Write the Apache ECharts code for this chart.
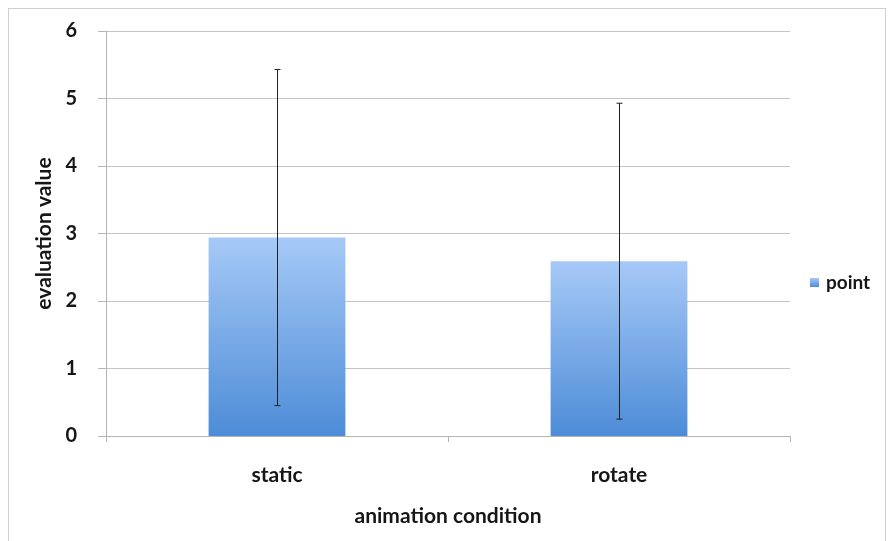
<!DOCTYPE html>
<html>
<head>
<meta charset="utf-8">
<script src="https://cdn.jsdelivr.net/npm/echarts@6/dist/echarts.min.js"></script>
<style>
  html, body { margin: 0; padding: 0; background: #fff; }
  #frame { position: absolute; left: 8px; top: 8px; width: 878px; height: 540px; border: 1px solid #d0d0d0; border-bottom: none; box-sizing: border-box; }
  #chart { width: 890px; height: 541px; position: absolute; left: 0; top: 0; }
</style>
</head>
<body>
<div id="frame"></div>
<div id="chart"></div>
<script>
// Mean evaluation per animation condition, with standard deviation
const categories = ['static', 'rotate'];
const pointMeans = [2.94, 2.59];
const pointSD = [2.49, 2.34];
const yTicks = [0, 1, 2, 3, 4, 5, 6];

const FONT = 'Lato, "Open Sans", sans-serif';
const TEXT = '#161616';
const chart = echarts.init(document.getElementById('chart'), null, { renderer: 'canvas' });

const errData = categories.map((c, i) => [i, pointMeans[i] - pointSD[i], pointMeans[i] + pointSD[i]]);

chart.setOption({
  animation: false,
  backgroundColor: 'transparent',
  grid: { left: 106, right: 100, top: 31, bottom: 105 },
  legend: {
    data: [{ name: 'point', icon: 'rect' }],
    left: 805, top: 268,
    itemWidth: 9, itemHeight: 9, itemGap: 6,
    textStyle: { fontFamily: FONT, fontWeight: 'bold', fontSize: 19, color: TEXT, padding: [0, 0, 0, 2] }
  },
  xAxis: {
    type: 'category',
    data: categories,
    name: 'animation condition',
    nameLocation: 'middle',
    nameGap: 70,
    nameTextStyle: { fontFamily: FONT, fontWeight: 'bold', fontSize: 21, color: TEXT },
    axisLine: { lineStyle: { color: '#b5b5b5', width: 1 } },
    axisTick: { show: true, alignWithLabel: false, length: 6, lineStyle: { color: '#b5b5b5' } },
    axisLabel: { margin: 29, fontFamily: FONT, fontWeight: 'bold', fontSize: 21, color: TEXT }
  },
  yAxis: {
    type: 'value',
    min: yTicks[0], max: yTicks[yTicks.length - 1], interval: 1,
    name: 'evaluation value',
    nameLocation: 'middle',
    nameGap: 50,
    nameTextStyle: { fontFamily: FONT, fontWeight: 'bold', fontSize: 21, color: TEXT },
    axisLine: { show: true, lineStyle: { color: '#b5b5b5', width: 1 } },
    axisTick: { show: true, length: 8, lineStyle: { color: '#b5b5b5' } },
    axisLabel: { margin: 29, fontFamily: FONT, fontWeight: 'bold', fontSize: 20, color: TEXT },
    splitLine: { show: true, lineStyle: { color: '#c4c4c4', width: 1 } }
  },
  series: [
    {
      name: 'point',
      type: 'bar',
      barWidth: '40%',
      data: pointMeans,
      itemStyle: {
        color: new echarts.graphic.LinearGradient(0, 0, 0, 1, [
          { offset: 0, color: '#a6c9f7' },
          { offset: 1, color: '#4d8cd7' }
        ])
      }
    },
    {
      name: 'sd',
      type: 'custom',
      data: errData,
      z: 10,
      renderItem: function (params, api) {
        const x = api.value(0);
        const lo = api.coord([x, api.value(1)]);
        const hi = api.coord([x, api.value(2)]);
        const cx = Math.round(lo[0]) + 0.5;
        const cap = 3;
        const style = { stroke: '#222', lineWidth: 1 };
        return {
          type: 'group',
          children: [
            { type: 'line', shape: { x1: cx, y1: hi[1], x2: cx, y2: lo[1] }, style: style },
            { type: 'line', shape: { x1: cx - cap, y1: hi[1], x2: cx + cap, y2: hi[1] }, style: style },
            { type: 'line', shape: { x1: cx - cap, y1: lo[1], x2: cx + cap, y2: lo[1] }, style: style }
          ]
        };
      }
    }
  ]
});
</script>
</body>
</html>
